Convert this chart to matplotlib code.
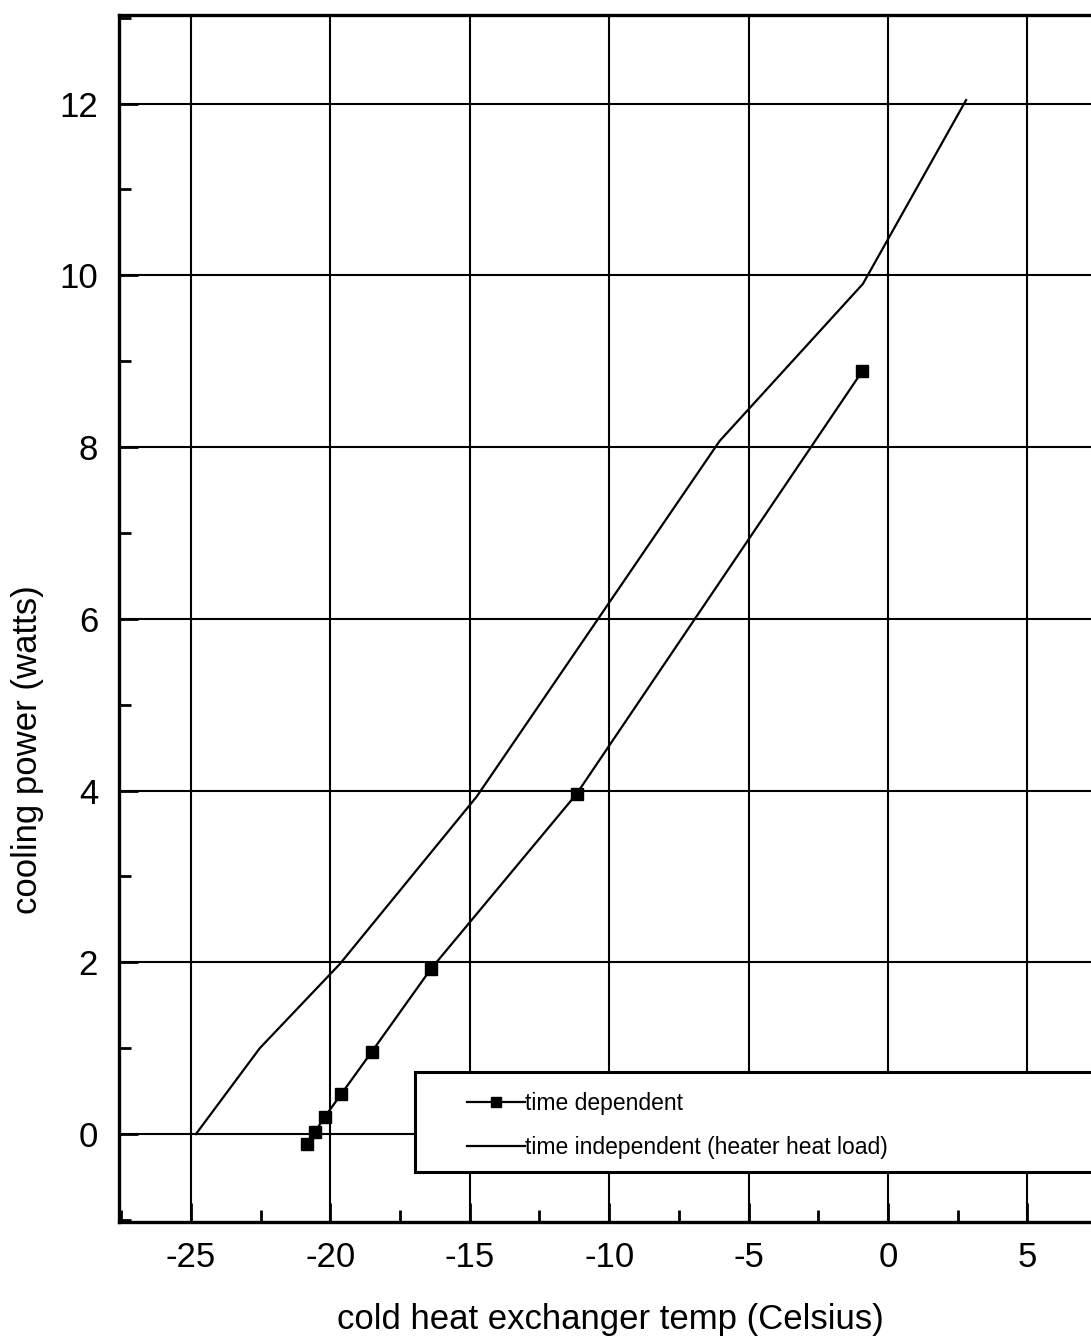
import matplotlib
matplotlib.use('Agg')
import matplotlib.pyplot as plt
from matplotlib.ticker import MultipleLocator
from matplotlib.patches import Rectangle

# values
dep_temp = [-20.85, -20.56, -20.2, -19.6, -18.51, -16.4, -11.17, -0.93]
dep_power = [-0.12, 0.02, 0.2, 0.47, 0.96, 1.92, 3.96, 8.88]

indep_temp = [-24.82, -22.53, -19.66, -14.75, -6.04, -0.9, 2.8]
indep_power = [0.0, 1.0, 1.98, 3.93, 8.07, 9.9, 12.04]

x_ticks = [-25, -20, -15, -10, -5, 0, 5]
y_ticks = [0, 2, 4, 6, 8, 10, 12]

plt.rcParams['font.family'] = ['Liberation Sans', 'DejaVu Sans']
plt.rcParams['axes.unicode_minus'] = False

fig = plt.figure(figsize=(10.91, 13.43), dpi=100)
ax = fig.add_axes([0.109, 0.0903, 0.8992, 0.8985])

ax.plot(dep_temp, dep_power, color='black', lw=1.6, marker='s', ms=8.7,
        label='time dependent', zorder=4)
ax.plot(indep_temp, indep_power, color='black', lw=1.6,
        label='time independent (heater heat load)', zorder=4)

ax.set_xlim(-27.58, 7.6)
ax.set_ylim(-1.02, 13.03)
ax.set_xticks(x_ticks)
ax.set_yticks(y_ticks)
ax.xaxis.set_minor_locator(MultipleLocator(2.5))
ax.yaxis.set_minor_locator(MultipleLocator(1))
ax.grid(True, which='major', color='black', lw=1.5, zorder=1)

ax.tick_params(which='both', direction='in', width=2, labelsize=25)
ax.tick_params(which='major', length=14)
ax.tick_params(which='minor', length=8.5)
ax.tick_params(axis='x', pad=14)
ax.tick_params(axis='y', pad=15)
for s in ax.spines.values():
    s.set_linewidth(2.4)

ax.set_xlabel('cold heat exchanger temp (Celsius)', fontsize=25)
ax.set_ylabel('cooling power (watts)', fontsize=25)
ax.xaxis.set_label_coords(0.5005, -0.067)
ax.yaxis.set_label_coords(-0.076, 0.391)

# legend box, runs off the right edge like the scan
box = Rectangle((0.302, 0.0412), 0.75, 0.0828, transform=ax.transAxes,
                facecolor='white', edgecolor='black', lw=2.2, zorder=3,
                clip_on=False)
ax.add_patch(box)
leg = ax.legend(loc='center left', bbox_to_anchor=(0.3547, 0.0797),
                frameon=False, fontsize=16.5, handlelength=2.55,
                handletextpad=0.0, labelspacing=0.9, borderpad=0,
                borderaxespad=0, markerscale=0.85)
leg.set_zorder(5)

fig.savefig('out.png', dpi=100)
